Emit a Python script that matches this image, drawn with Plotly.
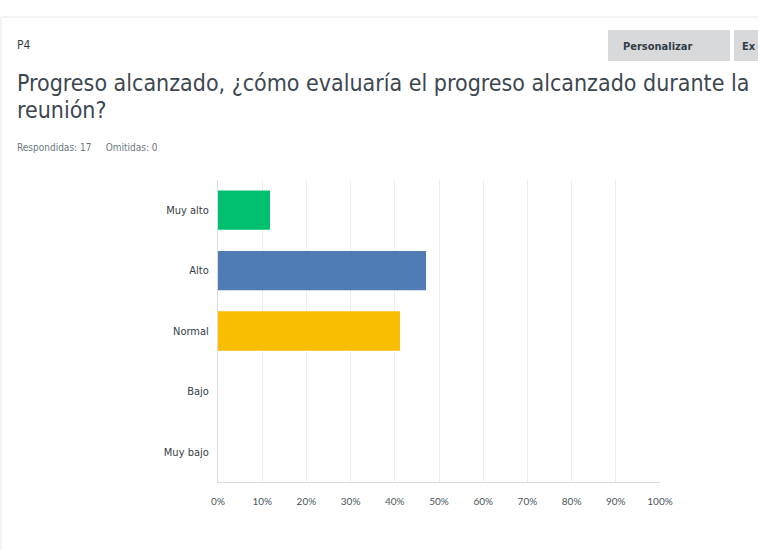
import plotly.graph_objects as go

# Datos de la pregunta P4 (17 respuestas)
categorias = ["Muy alto", "Alto", "Normal", "Bajo", "Muy bajo"]
porcentajes = [11.76, 47.06, 41.18, 0.0, 0.0]
colores = ["#00BF6F", "#507CB6", "#F9BE00", "#6BC8CD", "#FF8B4F"]
ticks = [0, 10, 20, 30, 40, 50, 60, 70, 80, 90, 100]
tick_textos = [str(t) + "%" for t in ticks]

W, H = 758, 550
L, R, T, B = 218, 660, 180, 482
FUENTE = "DejaVu Sans Condensed, Liberation Sans Narrow, sans-serif"


def px(x):
    # pixel -> coordenada paper (horizontal)
    return (x - L) / (R - L)


def py(y):
    # pixel -> coordenada paper (vertical)
    return (B - y) / (B - T)


fig = go.Figure()
fig.add_trace(go.Bar(
    y=categorias, x=porcentajes, orientation="h",
    marker=dict(color=colores, line=dict(width=0)),
    width=0.65, hoverinfo="skip",
))

fig.update_layout(
    width=W, height=H,
    margin=dict(l=L, r=W - R, t=T, b=H - B),
    paper_bgcolor="white", plot_bgcolor="white",
    showlegend=False,
    font=dict(family=FUENTE, color="#333e48"),
)

fig.update_xaxes(
    range=[0, 100], tickvals=ticks, ticktext=tick_textos,
    showgrid=True, gridcolor="#EDEEEE", gridwidth=1,
    showline=True, linecolor="#D9DBDC", linewidth=1,
    zeroline=False, ticks="", ticklen=0, ticklabelstandoff=10,
    tickfont=dict(family="Lato, Open Sans, sans-serif", size=10, color="#4a555c"),
    fixedrange=True,
)
fig.update_yaxes(
    autorange="reversed",
    showgrid=False, showline=True, linecolor="#D9DBDC", linewidth=1,
    ticks="", ticklen=0, ticklabelstandoff=6,
    tickfont=dict(family=FUENTE, size=11, color="#333e48"),
    fixedrange=True,
)

shapes = []
# tarjeta
shapes.append(dict(type="rect", xref="paper", yref="paper",
                   x0=px(1), x1=px(W + 10), y0=py(H + 10), y1=py(17),
                   line=dict(color="#E6E8E8", width=1), fillcolor="rgba(0,0,0,0)", layer="below"))
# botones
shapes.append(dict(type="rect", xref="paper", yref="paper",
                   x0=px(608), x1=px(730), y0=py(61), y1=py(30),
                   line=dict(width=0), fillcolor="#D7D9DA", layer="below"))
shapes.append(dict(type="rect", xref="paper", yref="paper",
                   x0=px(734), x1=px(W + 5), y0=py(61), y1=py(30),
                   line=dict(width=0), fillcolor="#D7D9DA", layer="below"))
fig.update_layout(shapes=shapes)

ann = [
    dict(text="P4", x=px(15), y=py(45), font=dict(size=12, color="#333e48")),
    dict(text="<b>Personalizar</b>", x=px(621), y=py(46), font=dict(size=11, color="#333e48")),
    dict(text="<b>Ex</b>", x=px(740), y=py(46), font=dict(size=11, color="#333e48")),
    dict(text="Progreso alcanzado, ¿cómo evaluaría el progreso alcanzado durante la",
         x=px(15), y=py(83), font=dict(size=23, color="#3d474f")),
    dict(text="reunión?", x=px(15), y=py(110), font=dict(size=23, color="#3d474f")),
    dict(text="Respondidas: 17&nbsp;&nbsp;&nbsp;&nbsp;&nbsp;Omitidas: 0", x=px(15), y=py(148),
         font=dict(size=10, color="#6b787f")),
]
for a in ann:
    a.update(xref="paper", yref="paper", xanchor="left", yanchor="middle",
             showarrow=False)
fig.update_layout(annotations=ann)

fig.write_html("out.html", config={"displayModeBar": False},
               post_script="document.body.style.margin='0';document.body.style.overflow='hidden';")
